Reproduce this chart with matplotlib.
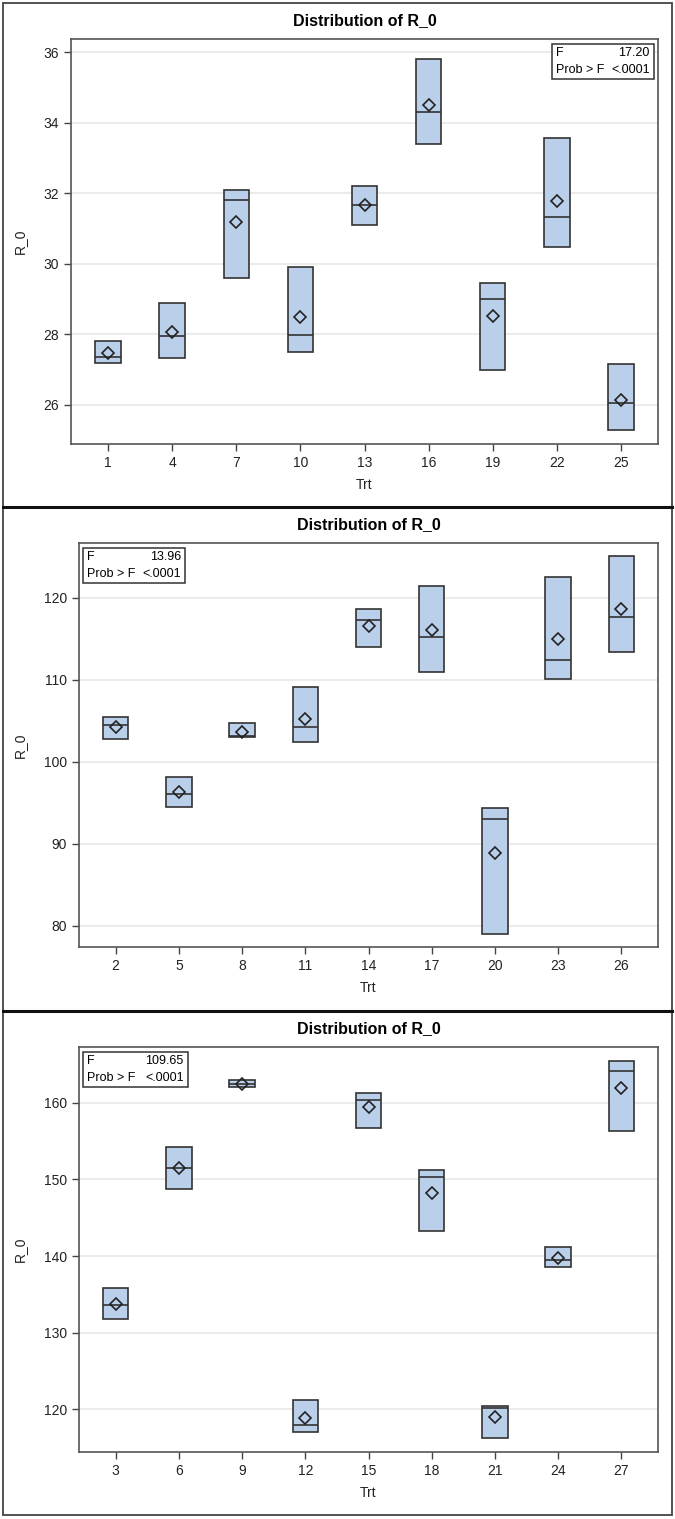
import numpy as np
import matplotlib.pyplot as plt
from matplotlib.patches import Rectangle
from matplotlib.lines import Line2D

plt.rcParams['font.family'] = ['Liberation Sans Narrow', 'Liberation Sans', 'DejaVu Sans']

# Data (box = Q1..Q3, median line, mean diamond)
trt_a = [1, 4, 7, 10, 13, 16, 19, 22, 25]
q1_a = [27.18, 27.32, 29.59, 27.48, 31.10, 33.40, 26.99, 30.46, 25.29]
med_a = [27.36, 27.93, 31.79, 27.97, 31.65, 34.31, 28.98, 31.32, 26.03]
q3_a = [27.80, 28.88, 32.09, 29.91, 32.19, 35.79, 29.45, 33.55, 27.15]
mean_a = [27.47, 28.05, 31.17, 28.47, 31.65, 34.51, 28.50, 31.77, 26.14]
f_a = '17.20'

trt_b = [2, 5, 8, 11, 14, 17, 20, 23, 26]
q1_b = [102.75, 94.49, 103.03, 102.42, 113.98, 111.01, 78.98, 110.11, 113.41]
med_b = [104.54, 96.11, 103.11, 104.21, 117.31, 115.24, 93.06, 112.39, 117.68]
q3_b = [105.51, 98.15, 104.74, 109.09, 118.66, 121.51, 94.36, 122.52, 125.13]
mean_b = [104.21, 96.28, 103.64, 105.23, 116.62, 116.05, 88.87, 114.99, 118.70]
f_b = '13.96'

trt_c = [3, 6, 9, 12, 15, 18, 21, 24, 27]
q1_c = [131.78, 148.78, 162.09, 117.00, 156.70, 143.26, 116.21, 138.57, 156.35]
med_c = [133.61, 151.52, 162.52, 117.96, 160.35, 150.26, 120.09, 139.48, 164.13]
q3_c = [135.78, 154.22, 163.04, 121.22, 161.35, 151.22, 120.43, 141.22, 165.48]
mean_c = [133.70, 151.52, 162.52, 118.83, 159.48, 148.26, 118.96, 139.78, 161.96]
f_c = '109.65'

W, H = 675, 1519
fig = plt.figure(figsize=(W / 100, H / 100), dpi=100)

def px_axes(left, top, right, bottom):
    return fig.add_axes([left / W, 1 - bottom / H, (right - left) / W, (bottom - top) / H])

def panel(ax, trt, q1, med, q3, mean, fval, ylim, yticks, statpos):
    stats = []
    for t, a, m, b, mu in zip(trt, q1, med, q3, mean):
        stats.append(dict(label=str(t), q1=a, med=m, q3=b, whislo=a, whishi=b, mean=mu, fliers=[]))
    ax.bxp(stats, positions=range(len(trt)), widths=0.4, patch_artist=True,
           showmeans=True, showcaps=False, showfliers=False,
           boxprops=dict(facecolor='#bad0ea', edgecolor='#333333', linewidth=1.2),
           medianprops=dict(color='#333333', linewidth=1.2),
           whiskerprops=dict(linewidth=0),
           meanprops=dict(marker='D', markersize=6.5, markerfacecolor='none',
                          markeredgecolor='#222222', markeredgewidth=1.2))
    ax.set_xlim(-0.58, len(trt) - 1 + 0.58)
    ax.set_ylim(*ylim)
    ax.set_yticks(yticks)
    ax.set_yticklabels([str(v) for v in yticks])
    ax.yaxis.grid(True, color='#e8e8e8', linewidth=1.2)
    ax.set_axisbelow(True)
    for s in ax.spines.values():
        s.set_color('#555555')
        s.set_linewidth(1.2)
    ax.tick_params(colors='#444444', labelcolor='#222222', labelsize=10, length=5, width=1)
    ax.set_xlabel('Trt', fontsize=10, color='#222222', labelpad=6)
    ax.set_ylabel('R_0', fontsize=10, color='#222222', labelpad=12)
    ax.set_title('Distribution of R_0', fontsize=11.5, fontweight='bold', pad=10)
    # F statistic inset
    x0, x1, y0, y1 = statpos
    ax.add_patch(Rectangle((x0, y0), x1 - x0, y1 - y0, transform=ax.transAxes,
                           facecolor='white', edgecolor='#333333', linewidth=1.1, zorder=5))
    ym = (y0 + y1) / 2
    ytop = ym + (y1 - y0) * 0.25
    ybot = ym - (y1 - y0) * 0.24
    ax.text(x0 + 0.007, ytop, 'F', transform=ax.transAxes, va='center', ha='left', fontsize=9, zorder=6)
    ax.text(x1 - 0.007, ytop, fval, transform=ax.transAxes, va='center', ha='right', fontsize=9, zorder=6)
    ax.text(x0 + 0.007, ybot, 'Prob > F', transform=ax.transAxes, va='center', ha='left', fontsize=9, zorder=6)
    ax.text(x1 - 0.007, ybot, '<.0001', transform=ax.transAxes, va='center', ha='right', fontsize=9, zorder=6)

ax1 = px_axes(71, 39, 658, 444)
panel(ax1, trt_a, q1_a, med_a, q3_a, mean_a, f_a, (24.88, 36.37), [26, 28, 30, 32, 34, 36],
      (0.819, 0.993, 0.901, 0.988))
ax2 = px_axes(79, 543, 658, 947)
panel(ax2, trt_b, q1_b, med_b, q3_b, mean_b, f_b, (77.4, 126.7), [80, 90, 100, 110, 120],
      (0.007, 0.183, 0.901, 0.988))
ax3 = px_axes(79, 1047, 658, 1452)
panel(ax3, trt_c, q1_c, med_c, q3_c, mean_c, f_c, (114.4, 167.3), [120, 130, 140, 150, 160],
      (0.007, 0.188, 0.901, 0.988))

# panel frames
fig.add_artist(Rectangle((3 / W, 1 - 1515 / H), 669 / W, 1512 / H, transform=fig.transFigure,
                         fill=False, edgecolor='#444444', linewidth=1.3))
for yy in (507, 1011):
    fig.add_artist(Line2D([3 / W, 672 / W], [1 - yy / H, 1 - yy / H], transform=fig.transFigure,
                          color='#111111', linewidth=2.2))

fig.savefig('out.png', dpi=100)
